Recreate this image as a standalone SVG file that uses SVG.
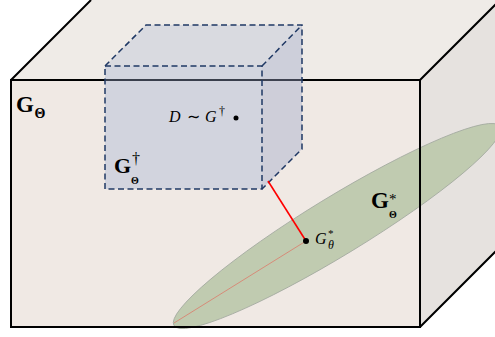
<svg xmlns="http://www.w3.org/2000/svg" width="495" height="337" viewBox="0 0 495 337">
<style>
.edge{fill:none;stroke:#000;stroke-width:2;stroke-linejoin:miter}
.dash{fill:none;stroke:#1f3864;stroke-width:1.5;stroke-dasharray:6 3.5}
.bold{font-family:"Liberation Serif",serif;font-weight:bold;fill:#000}
.it{font-family:"Liberation Serif",serif;font-style:italic;fill:#000}
.rm{font-family:"Liberation Serif",serif;fill:#000}
</style>
<rect width="495" height="337" fill="#fff"/>
<g id="G_Theta">
  <polygon points="11,80 91,0 500,0 420,80" fill="#efebe7"/>
  <polygon points="420,80 500,0 500,247 420,327" fill="#e6e2df"/>
  <rect x="11" y="80" width="409" height="247" fill="#f0e9e4"/>
</g>
<g id="G_star">
  <ellipse cx="337" cy="226" rx="191" ry="29" transform="rotate(-31.4 337 226)" fill="#c0cbb0" stroke="#a3aaa0" stroke-width="0.8"/>
  <line x1="306" y1="241" x2="174" y2="323" stroke="#e07060" stroke-width="0.7"/>
  <text class="bold" x="371" y="208" font-size="23">G</text>
  <text class="rm" x="389" y="204" font-size="15">*</text>
  <text class="bold" x="389" y="218" font-size="10">Θ</text>
</g>
<g id="G_Theta_edges">
  <rect class="edge" x="11" y="80" width="409" height="247"/>
  <path class="edge" d="M11,80 L91,0 M420,80 L500,0 M420,327 L500,247"/>
  <text class="bold" x="16" y="112" font-size="23">G</text>
  <text class="bold" x="34.5" y="118" font-size="14">Θ</text>
</g>
<g id="G_dagger">
  <polygon points="105,66 146,25 302,25 262,66" fill="#a6b2d2" fill-opacity="0.3"/>
  <polygon points="262,66 302,25 302,149 262,189" fill="#9aa6c8" fill-opacity="0.4"/>
  <rect x="105" y="66" width="157" height="123" fill="#9fb0d4" fill-opacity="0.36"/>
  <rect class="dash" x="105" y="66" width="157" height="123"/>
  <path class="dash" d="M105,66 L146,25 L302,25 L302,149 L262,189 M262,66 L302,25"/>
  <text class="bold" x="114" y="173" font-size="22">G</text>
  <text class="rm" x="132" y="164" font-size="16">†</text>
  <text class="bold" x="131" y="184" font-size="10">Θ</text>
</g>
<g id="D_point">
  <text class="it" x="169" y="122" font-size="16">D</text>
  <text class="rm" x="187" y="122" font-size="16">∼</text>
  <text class="it" x="205" y="122" font-size="16">G</text>
  <text class="rm" x="219" y="115" font-size="12">†</text>
  <circle cx="236" cy="118" r="2.5" fill="#000"/>
</g>
<g id="connectors">
  <line x1="306" y1="241" x2="268" y2="181" stroke="#ff0000" stroke-width="1.6"/>
</g>
<g id="G_star_point">
  <circle cx="306" cy="241" r="3" fill="#000"/>
  <text class="it" x="315" y="244" font-size="16">G</text>
  <text class="rm" x="328" y="237" font-size="11">*</text>
  <text class="it" x="328" y="249" font-size="12">θ</text>
</g>
</svg>
